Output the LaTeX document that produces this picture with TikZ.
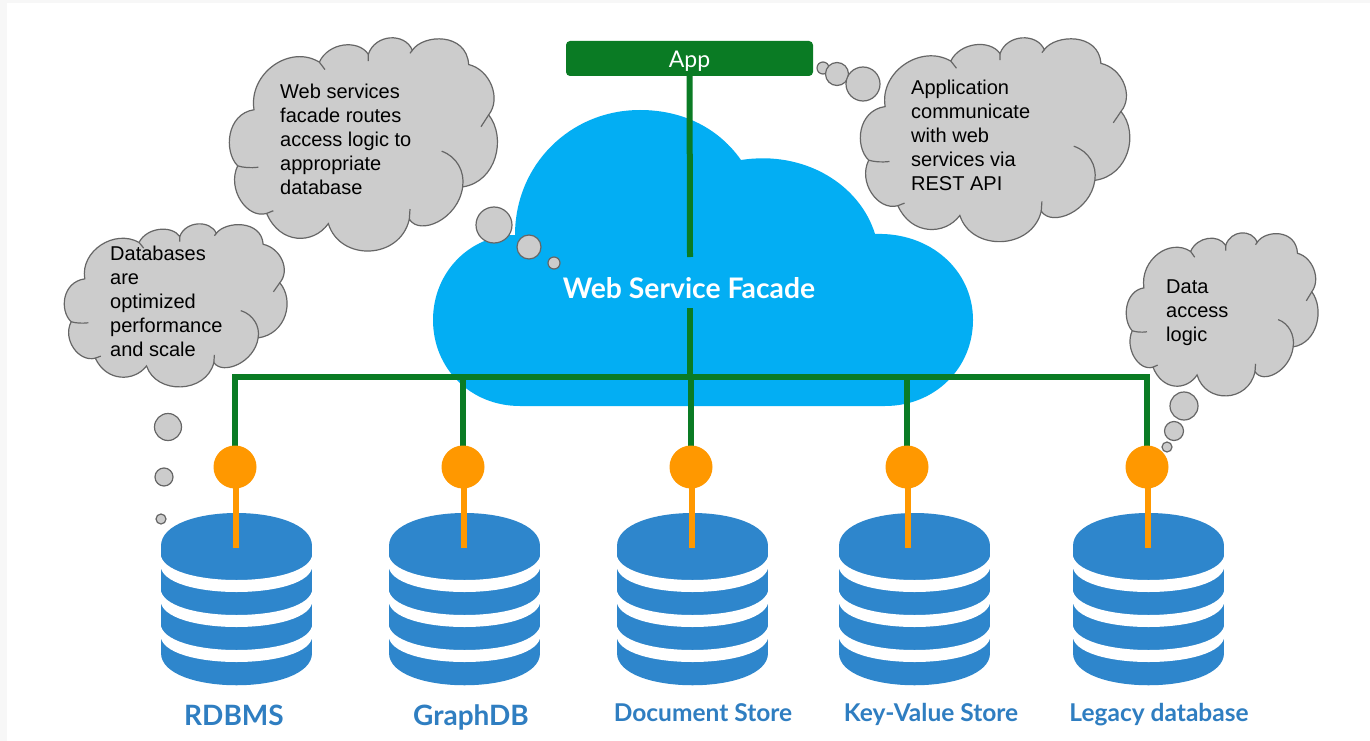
\documentclass[tikz,border=0pt]{standalone}
\usepackage{fontspec}
\setmainfont{Liberation Sans}
\newfontfamily\latofont{Lato}
\usepackage{tikz}

\definecolor{facadeblue}{HTML}{03AEF3}
\definecolor{busgreen}{HTML}{0A7B24}
\definecolor{portorange}{HTML}{FF9800}
\definecolor{storeblue}{HTML}{2E86CC}
\definecolor{labelblue}{HTML}{2F7EC1}
\definecolor{puffgray}{HTML}{CCCCCC}
\definecolor{puffline}{HTML}{666666}

\tikzset{
  puff node/.style={circle, draw=puffline, fill=puffgray, line width=1.2pt, inner sep=0pt, outer sep=0pt},
  port node/.style={circle, fill=portorange, inner sep=0pt, outer sep=0pt, minimum size=43pt},
  note node/.style={anchor=west, align=left, inner sep=0pt, text=black, font=\fontsize{20}{24}\selectfont},
  store node/.style={anchor=base, text=labelblue, font=\latofont\bfseries\fontsize{28}{32}\selectfont},
  small store node/.style={anchor=base, text=labelblue, font=\latofont\bfseries\fontsize{24.5}{28}\selectfont},
  pics/thought/.style={code={
    \begin{scope}[shift={(-537,-57)}]
      \filldraw[draw=puffline, fill=puffgray, line width=1.2pt]
        (612,268) .. controls (595,160) and (720,75) .. (808,128)
        .. controls (835,70) and (925,60) .. (955,105)
        .. controls (975,45) and (1065,40) .. (1087,93)
        .. controls (1120,45) and (1250,40) .. (1256,135)
        .. controls (1320,150) and (1355,235) .. (1316,283)
        .. controls (1370,350) and (1340,480) .. (1238,495)
        .. controls (1225,590) and (1110,640) .. (1078,590)
        .. controls (1050,710) and (870,715) .. (835,603)
        .. controls (790,665) and (690,665) .. (650,573)
        .. controls (590,590) and (530,500) .. (563,433)
        .. controls (520,390) and (530,280) .. (612,268) -- cycle;
      \draw[draw=puffline, line width=1.2pt]
        (808,128) -- (825,150)
        (955,105) -- (955,125)
        (1087,93) -- (1080,102)
        (1316,283) -- (1293,318)
        (1175,390) .. controls (1220,405) and (1245,450) .. (1238,495)
        (1078,590) -- (1080,560)
        (650,573) -- (670,565)
        (563,433) .. controls (580,438) and (600,440) .. (625,437);
    \end{scope}
  }},
  pics/store/.style={code={
    \begin{scope}
      \clip (-75.5,546) .. controls (-75.5,502) and (75.5,502) .. (75.5,546)
        -- (75.5,653) .. controls (75.5,696) and (-75.5,696) .. (-75.5,653) -- cycle;
      \fill[storeblue] (-76,500) rectangle (76,700);
      \foreach \y in {553,588,623}
        \fill[white] (-76,\y) .. controls (-76,\y+36) and (76,\y+36) .. (76,\y)
          -- (76,\y+12) .. controls (76,\y+48) and (-76,\y+48) .. (-76,\y+12) -- cycle;
    \end{scope}
  }}
}

\begin{document}
\begin{tikzpicture}[x=1pt, y=-1pt]
    \useasboundingbox (0,0) rectangle (1370,741);
    \fill[black!3] (0,0) rectangle (1370,741);
    \fill[white] (7,3) rectangle (1370,741);

    % Thought clouds
    \pic[xscale=1/3, yscale=.34] at (229,38) {thought};
    \pic[xscale=.335, yscale=.325] at (860,38) {thought};
    \pic[xscale=.277, yscale=.26] at (64,224) {thought};
    \pic[xscale=.2385, yscale=.26] at (1126,233) {thought};

    % Facade cloud
    \fill[facadeblue] (520,406) .. controls (470,406) and (433,368) .. (433,320)
        .. controls (433,272) and (470,235) .. (515,235)
        .. controls (515,165) and (570,110) .. (640,110)
        .. controls (685,110) and (720,130) .. (741,160)
        .. controls (805,150) and (860,185) .. (875,234)
        .. controls (930,232) and (973,270) .. (973,320)
        .. controls (973,368) and (935,406) .. (885,406) -- cycle;

    % Stores
    \foreach \x in {236.5,464.5,692.5,914.5,1148.5}
        \pic at (\x,0) {store};

    % Nodes
    \node[fill=busgreen, rounded corners=4pt, minimum width=247pt, minimum height=35pt, inner sep=0pt, text=white, font=\latofont\fontsize{23}{28}\selectfont] (app) at (689.5,58.5) {\raisebox{-9.5pt}[0pt][0pt]{App}};
    \node[text=white, font=\latofont\bfseries\fontsize{28.3}{32}\selectfont] (facade) at (689,288) {Web Service Facade};
    \coordinate (gapup) at (690,257);
    \coordinate (gapdown) at (690,308);
    \coordinate (busleft) at (235,377);
    \coordinate (busmid) at (690,377);
    \coordinate (busright) at (1147,377);

    \node[note node] (webnote) at (280,139) {Web services\\facade routes\\access logic to\\appropriate\\database};
    \node[note node] (appnote) at (911,135) {Application\\communicate\\with web\\services via\\REST API};
    \node[note node] (dbnote) at (110,301) {Databases\\are\\optimized\\performance\\and scale};
    \node[note node] (datanote) at (1166,313) {Data\\access\\logic};

    \node[store node] (rdbms) at (234,725) {RDBMS};
    \node[store node] (graphdb) at (471,725) {GraphDB};
    \node[small store node] (docstore) at (703,721) {Document Store};
    \node[small store node] (kvstore) at (931,721) {Key-Value Store};
    \node[small store node] (legacy) at (1159,721) {Legacy database};

    % Arrows/Edges of the bus
    \draw[busgreen, line width=6pt] (app) -- (gapup);
    \draw[busgreen, line width=6pt] (gapdown) -- (busmid);
    \draw[busgreen, line width=6pt, line cap=rect] (busleft) -- (busright);

    \foreach \n/\x/\sx in {1/235/236, 2/463/464, 3/691/692, 4/907/908, 5/1147/1148} {
        \coordinate (drop\n) at (\x,377);
        \coordinate (stem\n) at (\sx,548);
        \draw[busgreen, line width=6pt] (drop\n) -- (\x,450);
        \draw[portorange, line width=6pt] (\sx,467) -- (stem\n);
        \node[port node] (port\n) at (\x,467) {};
    }

    % Puffs
    \foreach \n/\x/\y/\r in {a/494/225/18, b/529/247/12, c/554/263/6,
                             d/823/68/6, e/837/74/11.5, f/863/84/17,
                             g/168/427/13.5, h/164/477/9, i/161/519/5,
                             j/1184/406/14, k/1174/431/9.5, l/1167/447/5}
        \node[puff node, minimum size=2*\r pt] (puff\n) at (\x,\y) {};
\end{tikzpicture}
\end{document}
